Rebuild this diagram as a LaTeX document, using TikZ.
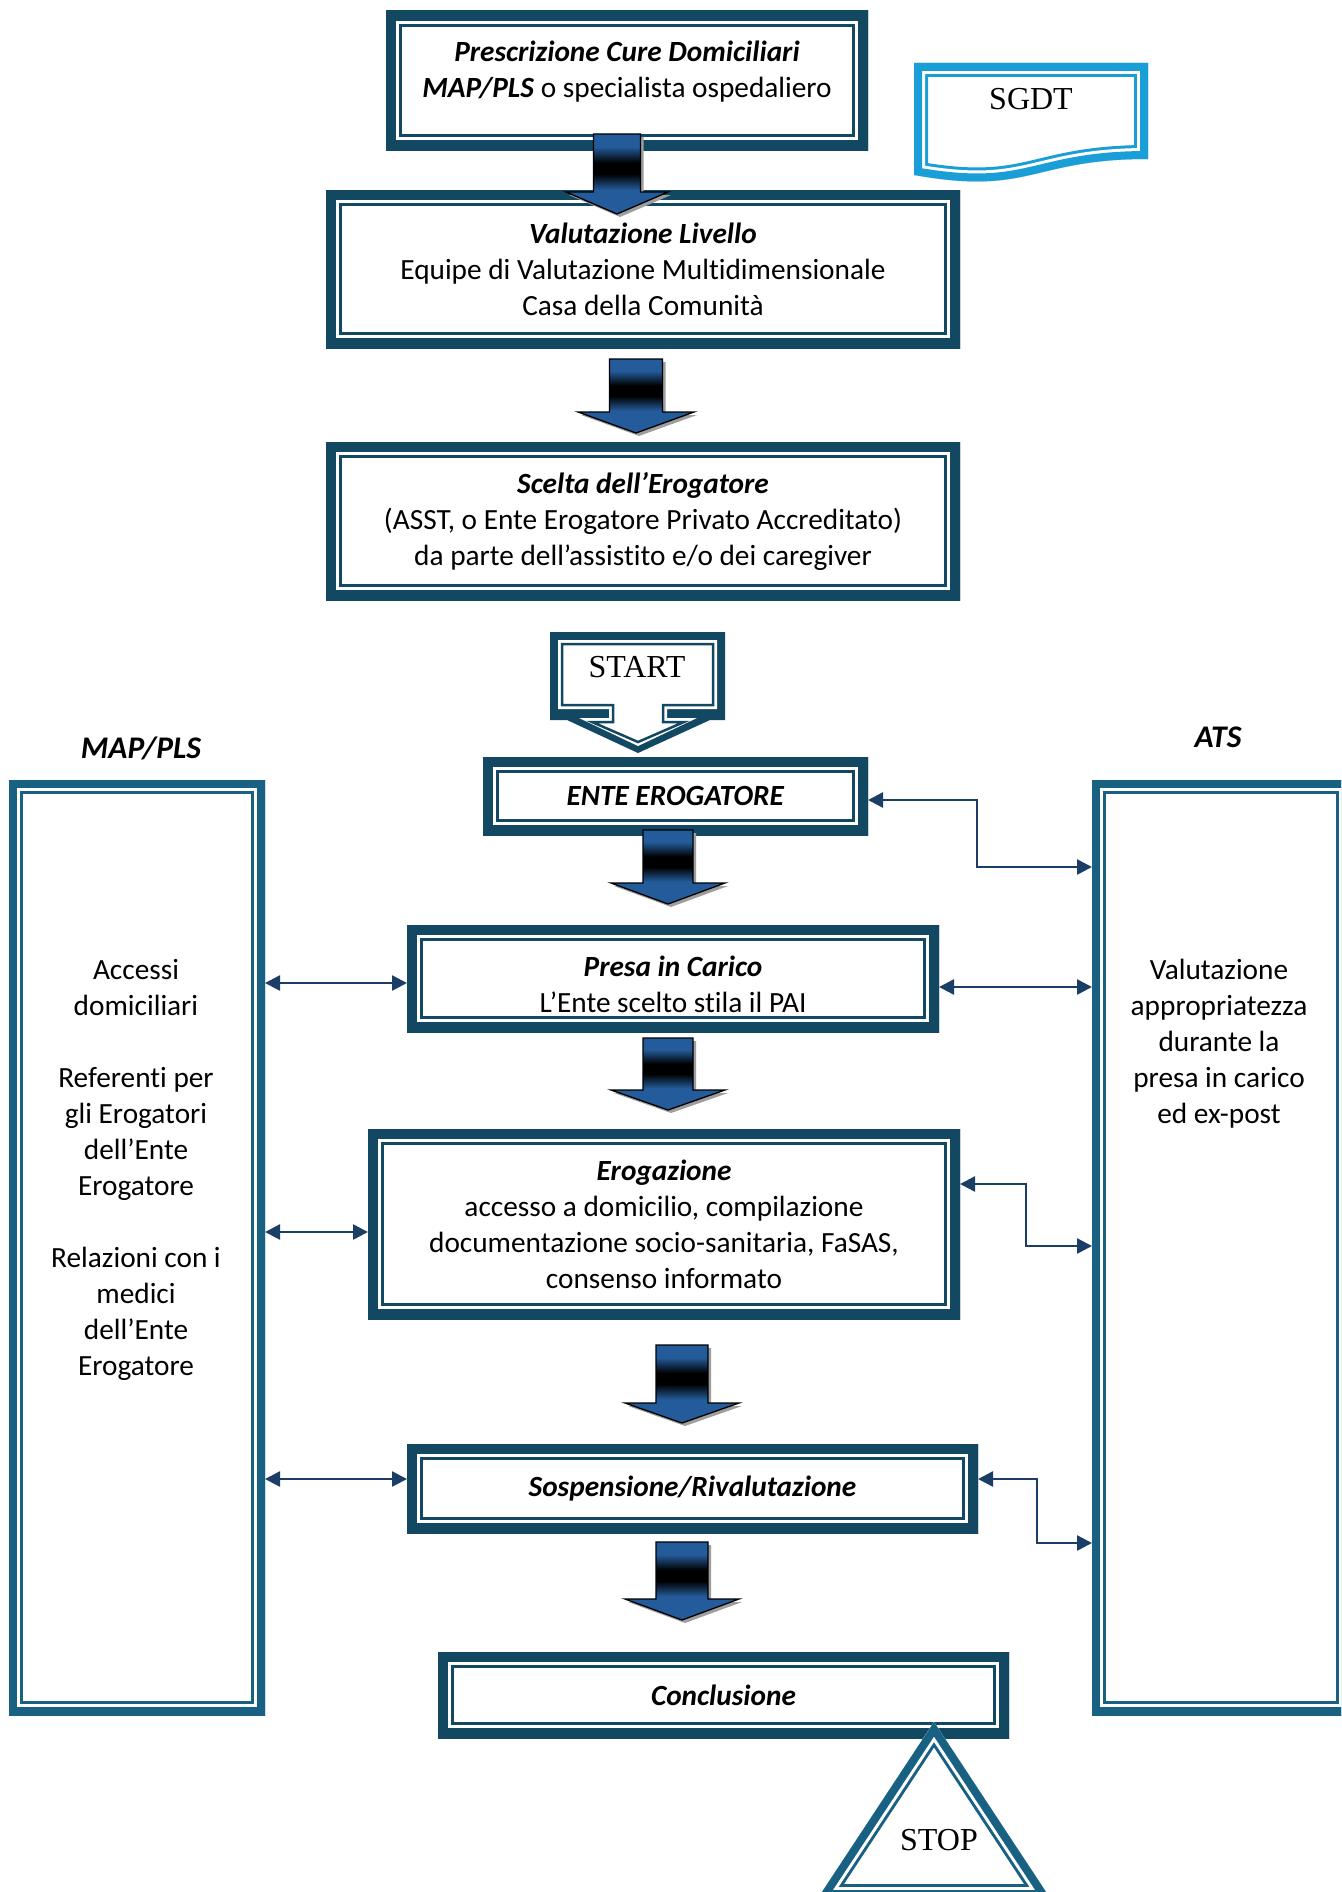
\documentclass[tikz,border=0pt]{standalone}
\usepackage{fontspec}
\setmainfont{Carlito}[Ligatures=NoCommon]
\newfontfamily\timesfam{Liberation Serif}
\usetikzlibrary{arrows.meta}
\definecolor{boxdark}{RGB}{19,72,98}
\definecolor{boxmid}{RGB}{24,97,131}
\definecolor{sgdtblue}{RGB}{25,158,216}
\definecolor{connc}{RGB}{27,62,102}
\definecolor{arrowblue}{RGB}{36,92,155}
\pgfdeclareverticalshading{blkshade}{100bp}{color(0bp)=(arrowblue); color(40bp)=(arrowblue); color(50bp)=(black); color(57bp)=(black); color(67bp)=(arrowblue); color(100bp)=(arrowblue)}
\newcommand\bodyfont{\fontsize{29.3pt}{36pt}\selectfont}
\newcommand\labelfont{\fontsize{31.5pt}{38pt}\selectfont\bfseries\itshape}
\newcommand\seriffont{\fontsize{32pt}{38pt}\selectfont\timesfam}
\newcommand\bi[1]{\textbf{\textit{#1}}}
% block arrow: cx, top, base, tip, half shaft, half head
\newcommand\blkarrow[6]{%
  \fill[black!38, xshift=3pt, yshift=-3pt] (#1-#5,#2) -- (#1+#5,#2) -- (#1+#5,#3) -- (#1+#6,#3) -- (#1,#4) -- (#1-#6,#3) -- (#1-#5,#3) -- cycle;
  \shadedraw[shading=blkshade, draw=black, line width=1.3pt] (#1-#5,#2) -- (#1+#5,#2) -- (#1+#5,#3) -- (#1+#6,#3) -- (#1,#4) -- (#1-#6,#3) -- (#1-#5,#3) -- cycle;}
% shape with thick band, white gap and thin inner line
\newcommand\bandshape[2]{%
  \begin{scope}
    \clip #2;
    \fill[white] #2;
    \draw[#1, line width=28pt] #2;
    \draw[white, line width=22pt] #2;
    \draw[#1, line width=16pt] #2;
  \end{scope}}
\tikzset{
  mainbox/.style={rectangle, fill=white, inner sep=0pt, outer sep=0pt, align=center, font=\bodyfont,
    path picture={
      \draw[boxdark, line width=32pt] (path picture bounding box.south west) rectangle (path picture bounding box.north east);
      \draw[white, line width=26pt] (path picture bounding box.south west) rectangle (path picture bounding box.north east);
      \draw[boxdark, line width=20pt] (path picture bounding box.south west) rectangle (path picture bounding box.north east);
    }},
  sidebox/.style={rectangle, fill=white, inner sep=0pt, outer sep=0pt,
    path picture={
      \draw[boxmid, line width=28pt] (path picture bounding box.south west) rectangle (path picture bounding box.north east);
      \draw[white, line width=22pt] (path picture bounding box.south west) rectangle (path picture bounding box.north east);
      \draw[boxmid, line width=16pt] (path picture bounding box.south west) rectangle (path picture bounding box.north east);
    }},
  bodytext/.style={font=\bodyfont, align=center, inner sep=0pt},
  sidelabel/.style={font=\labelfont, inner sep=0pt},
  serifnode/.style={font=\seriffont, inner sep=0pt},
  conn/.style={connc, line width=2.5pt, {Triangle[length=15pt,width=15pt]}-{Triangle[length=15pt,width=15pt]}}
}
\begin{document}
\begin{tikzpicture}[x=1pt, y=-1pt]
\useasboundingbox (0,0) rectangle (1341,1892);
\clip (0,0) rectangle (1341,1892);
\fill[white] (0,0) rectangle (1341,1892);

% main flow boxes
\node[mainbox, minimum width=482pt, minimum height=139pt] (pres) at (627,80.5) {};
\node[bodytext] (prestext) at (627,72) {\bi{Prescrizione Cure Domiciliari}\\\bi{MAP/PLS} o specialista ospedaliero};
\node[mainbox, minimum width=634pt, minimum height=158pt] (valu) at (643,269) {\bi{Valutazione Livello}\\Equipe di Valutazione Multidimensionale\\Casa della Comunità};
\node[mainbox, minimum width=634pt, minimum height=158pt] (scel) at (643,521) {\bi{Scelta dell’Erogatore}\\(ASST, o Ente Erogatore Privato Accreditato)\\da parte dell’assistito e/o dei caregiver};
\node[mainbox, minimum width=385pt, minimum height=78pt] (ente) at (675.5,796) {\bi{ENTE EROGATORE}};
\node[mainbox, minimum width=532pt, minimum height=107pt] (presa) at (673,978.5) {};
\node[bodytext] (presatext) at (673,984) {\bi{Presa in Carico}\\L’Ente scelto stila il PAI};
\node[mainbox, minimum width=592pt, minimum height=190pt] (erog) at (664,1224) {\bi{Erogazione}\\accesso a domicilio, compilazione\\documentazione socio-sanitaria, FaSAS,\\consenso informato};
\node[mainbox, minimum width=571pt, minimum height=89pt] (sosp) at (692.5,1488.5) {\bi{Sospensione/Rivalutazione}};
\node[mainbox, minimum width=571pt, minimum height=86pt] (concl) at (723.5,1695) {\bi{Conclusione}};

% side boxes
\node[sidelabel] (maplabel) at (141,748) {MAP/PLS};
\node[sidelabel] (atslabel) at (1218,737) {ATS};
\node[sidebox, minimum width=256pt, minimum height=935pt] (mapbox) at (137,1247.5) {};
\node[sidebox, minimum width=258pt, minimum height=935pt] (ats) at (1221,1247.5) {};
\node[bodytext, anchor=north] (maptext) at (136,959) {Accessi\\domiciliari\\[36pt]Referenti per\\gli Erogatori\\dell’Ente\\Erogatore\\[36pt]Relazioni con i\\medici\\dell’Ente\\Erogatore};
\node[bodytext, anchor=north] (atstext) at (1219,959) {Valutazione\\appropriatezza\\durante la\\presa in carico\\ed ex-post};

% block arrows
\blkarrow{617}{134}{192}{214}{23.5}{51}
\blkarrow{636}{359}{412}{433}{26.5}{58}
\blkarrow{668}{830}{883}{904}{25}{57}
\blkarrow{668}{1038}{1090}{1110}{25}{57}
\blkarrow{682}{1345}{1403}{1423}{26}{57}
\blkarrow{682}{1542}{1599}{1620}{26}{57}

% connectors
\draw[conn] (ente.east |- 0,800) -| (977,867) -- (ats.west |- 0,867);
\draw[conn] (presa.east |- 0,987) -- (ats.west |- 0,987);
\draw[conn] (mapbox.east |- 0,983) -- (presa.west |- 0,983);
\draw[conn] (mapbox.east |- 0,1232) -- (erog.west |- 0,1232);
\draw[conn] (erog.east |- 0,1184) -| (1026,1246) -- (ats.west |- 0,1246);
\draw[conn] (mapbox.east |- 0,1479) -- (sosp.west |- 0,1479);
\draw[conn] (sosp.east |- 0,1479) -| (1037,1543) -- (ats.west |- 0,1543);

% SGDT document shape
\bandshape{sgdtblue}{(914,63) -- (1148,63) -- (1148,159) .. controls (1031,159) and (1031,196) .. (914,175) -- cycle}
\node[serifnode] (sgdt) at (1031,99) {SGDT};

% START callout
\fill[boxdark] (550,632) -- (725,632) -- (725,720) -- (710,720) -- (638,753) -- (567,720) -- (550,720) -- cycle;
\fill[white] (558,640) -- (717,640) -- (717,709) -- (667,709) -- (667,718) -- (697,718) -- (638,746) -- (579,718) -- (609,718) -- (609,709) -- (558,709) -- cycle;
\draw[boxdark, line width=2.5pt] (562,644) -- (713,644) -- (713,705) -- (663,705) -- (663,722) -- (684,722) -- (638,742) -- (592,722) -- (613,722) -- (613,705) -- (562,705) -- cycle;
\node[serifnode] (start) at (637,667) {START};

% STOP triangle
\bandshape{boxmid}{(934,1722) -- (1050,1898) -- (818,1898) -- cycle}
\node[serifnode] (stop) at (939,1840) {STOP};
\end{tikzpicture}
\end{document}
